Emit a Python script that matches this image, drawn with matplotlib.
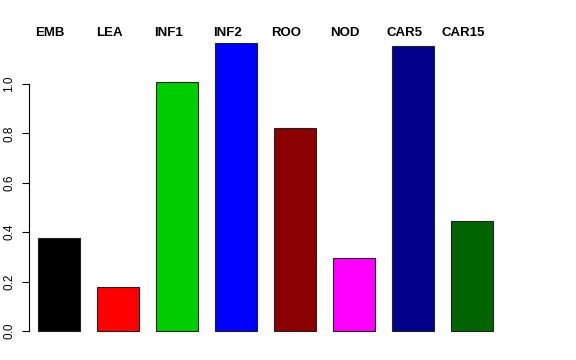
import numpy as np
import matplotlib.pyplot as plt

plt.rcParams['font.family'] = ['Liberation Sans', 'DejaVu Sans']

tissues = ['EMB', 'LEA', 'INF1', 'INF2', 'ROO', 'NOD', 'CAR5', 'CAR15']
values = [0.377, 0.178, 1.008, 1.166, 0.822, 0.296, 1.154, 0.445]
colours = ['#000000', '#FF0000', '#00CD00', '#0000FF',
           '#8B0000', '#FF00FF', '#00008B', '#006400']
yticks = [0.0, 0.2, 0.4, 0.6, 0.8, 1.0]

fig = plt.figure(figsize=(5.76, 3.6), dpi=100)
ax = fig.add_axes([29 / 576, 0.067, 493 / 576, 0.8506])

x = np.arange(len(tissues))
ax.bar(x, values, width=0.71, color=colours, edgecolor='#222222', linewidth=0.8)

ax.set_xlim(-0.508, 7.85)
ax.set_ylim(-0.02, 1.22)

# names above the bars, slightly left of centre as in the original
for xi, name in zip(x, tissues):
    ax.text(xi - 0.15, 1.208, name, ha='center', va='center',
            fontsize=9.5, fontweight='bold', clip_on=False)

for s in ['top', 'right', 'bottom']:
    ax.spines[s].set_visible(False)
ax.spines['left'].set_bounds(0, 1)
ax.spines['left'].set_linewidth(0.8)
ax.set_xticks([])
ax.set_yticks(yticks)
ax.set_yticklabels(['%.1f' % t for t in yticks], rotation=90, va='center')
ax.tick_params(axis='y', length=5, width=0.8, pad=5, labelsize=8.5)

fig.savefig('out.png', dpi=100)
